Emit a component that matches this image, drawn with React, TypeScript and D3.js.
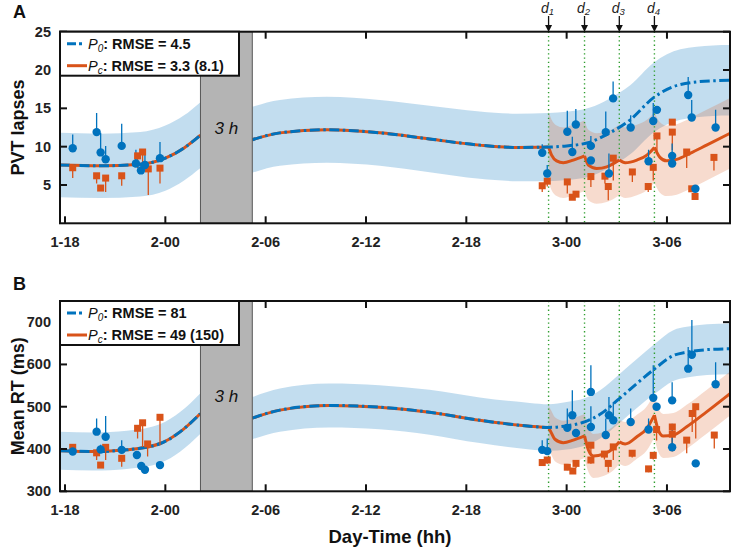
import React from "react";
import * as d3 from "d3";

const W = 732;
const H = 547;
const FONT = "'Liberation Sans', Arial, sans-serif";
const BLUE = "#0072bd";
const ORANGE = "#d95319";

// ---------- shared data ----------
const xDomain = [17.7, 57.77];
const xTicks = [18, 24, 30, 36, 42, 48, 54];
const xTickLabels = ["1-18", "2-00", "2-06", "2-12", "2-18", "3-00", "3-06"];
const doseTimes = [46.92, 49.07, 51.15, 53.25];
const doseNames = ["1", "2", "3", "4"];
const gapWindow = [26.1, 29.2];

// ---------- panel A: PVT lapses ----------
const lapsesTicks = [5, 10, 15, 20, 25];
// [time (h), P0 value, band half-width]
const lapsesP0Pre = [
  [17.7, 7.6, 4.2], [20.1, 7.5, 4.2], [22.5, 7.7, 4.2], [24, 8.5, 4.25],
  [25.1, 9.8, 4.25], [26.1, 11.5, 4.3],
];
const lapsesP0Post = [
  [29.2, 10.9, 4.3], [30.85, 11.8, 4.3], [33.66, 12.2, 4.3], [36.83, 11.8, 4.3],
  [39.8, 11.0, 4.35], [42.8, 10.2, 4.4], [45, 9.9, 4.4], [46.92, 9.95, 4.45],
  [48, 10.1, 4.45], [49.4, 10.6, 4.5], [50.5, 11.7, 4.5], [51.8, 13.5, 4.5],
  [53.2, 16.4, 4.55], [54.8, 18.1, 4.6], [56.75, 18.6, 4.6], [57.77, 18.65, 4.6],
];
// [time, Pc value]
const lapsesPc = [
  [46.92, 9.95], [47.1, 8.9], [47.4, 8.15], [47.8, 7.9], [48.4, 8.25], [49.07, 8.8],
  [49.3, 7.6], [49.8, 7.16], [50.4, 7.37], [51.15, 8.25],
  [51.5, 7.9], [52.2, 8.25], [52.8, 8.9], [53.25, 9.9],
  [53.58, 8.6], [53.98, 8.15], [54.58, 8.34], [55.38, 9.12], [56.37, 10.2], [57.77, 11.74],
];
const lapsesPcHalfWidth = 4.6;
// [time, mean, top of error bar]
const lapsesBlue = [
  [18.46, 9.8, 11.6], [19.89, 11.9, 14.4], [20.13, 9.25, 11.8], [20.43, 8.35, 10.1],
  [21.39, 10.1, 13.0], [22.24, 7.8, 9.6], [22.54, 6.9, 7.9], [22.78, 7.6, 8.9],
  [23.68, 8.5, 10.6],
  [46.54, 9.2, 10.3], [46.84, 6.5, 7.6], [48.04, 11.95, 14.7], [48.55, 12.9, 14.9],
  [48.34, 9.3, 11.3], [49.45, 10.1, 11.4], [49.45, 8.2, 8.2], [50.34, 11.9, 14.6],
  [50.53, 6.5, 9.1], [50.78, 16.3, 18.5], [51.83, 12.5, 14.1], [52.9, 8.1, 9.6],
  [53.18, 13.35, 15.7], [53.4, 14.8, 14.8], [54.31, 8.8, 10.4], [54.31, 7.8, 7.8],
  [55.27, 16.75, 19.1], [55.48, 13.8, 16.1], [55.7, 4.5, 4.5], [56.91, 12.5, 14.8],
];
// [time, mean, bottom of error bar]
const lapsesOrange = [
  [18.46, 7.25, 5.9], [19.89, 6.2, 5.2], [20.13, 4.6, 4.2], [20.43, 5.9, 4.1],
  [21.39, 6.2, 4.9], [22.34, 8.8, 7.2], [22.64, 9.3, 7.4], [22.98, 7.1, 3.7],
  [23.68, 7.2, 5.2],
  [46.54, 4.9, 4.1], [46.84, 5.5, 4.8], [48.04, 5.4, 3.9], [48.34, 3.4, 3.4],
  [48.56, 3.8, 3.8], [49.45, 6.1, 4.75], [50.29, 6.15, 5.2], [50.49, 4.8, 3.0],
  [50.79, 8.5, 5.6], [51.93, 6.7, 5.4], [52.88, 4.8, 4.1], [53.18, 7.3, 5.6],
  [53.4, 11.4, 9.1], [54.32, 13.2, 13.2], [54.32, 11.9, 9.55], [55.18, 9.3, 7.2],
  [55.48, 4.5, 4.5], [55.68, 3.5, 3.5], [56.81, 8.6, 6.9],
];
const lapsesLegend = ["4.5", "3.3 (8.1)"];

// ---------- panel B: mean RT ----------
const rtTicks = [300, 400, 500, 600, 700];
const rtP0Pre = [
  [17.7, 396, 45], [19.7, 394, 45], [21.7, 398, 45], [23.7, 413, 46],
  [24.9, 441, 47], [26.1, 484, 48],
];
const rtP0Post = [
  [29.2, 473, 50], [30.85, 492, 51], [33.8, 503, 52], [36.8, 499, 52],
  [39.8, 487, 53], [42.8, 468, 54], [45.8, 454, 55], [46.92, 451, 55],
  [48, 455, 56], [49.07, 464, 56], [50, 482, 57], [51.15, 519, 58],
  [52.2, 555, 58], [53.28, 590, 59], [54.38, 621, 60], [55.18, 629, 60],
  [56.4, 635, 60], [57.77, 637, 60],
];
const rtPc = [
  [46.92, 451], [47.1, 437], [47.3, 423], [47.8, 415], [48.4, 421], [49.07, 431],
  [49.3, 398], [49.6, 383.5], [50.2, 388], [50.8, 401.6], [51.15, 417],
  [51.5, 412], [52.2, 429], [52.8, 449], [53.25, 480],
  [53.48, 444.7], [53.78, 430.6], [54.38, 433], [55.18, 452.5], [56.37, 487.8], [57.77, 531],
];
const rtPcHalfWidth = 52;
const rtBlue = [
  [18.46, 394, 394], [19.89, 441, 472], [20.43, 429, 478], [20.13, 399, 410],
  [21.39, 398, 421], [22.3, 386, 395], [22.56, 360, 360], [22.78, 351, 351],
  [23.68, 362, 362],
  [46.54, 398, 421], [46.84, 395, 425], [48.04, 450, 496], [48.34, 480, 539],
  [48.56, 438, 445], [49.45, 535, 598], [49.45, 452, 501], [50.34, 433, 472],
  [50.53, 480, 523], [50.79, 468, 511], [51.83, 464, 496], [52.9, 446, 472],
  [53.18, 521, 598], [53.38, 500, 500], [54.31, 515, 558], [54.31, 404, 460],
  [55.27, 590, 641], [55.49, 623, 705], [55.72, 366, 366], [56.91, 553, 605],
];
const rtOrange = [
  [18.46, 404, 390], [19.89, 391, 374], [20.13, 362, 362], [20.43, 404, 374],
  [21.39, 378, 358], [22.34, 449, 425], [22.64, 462, 405], [22.94, 412, 382],
  [23.68, 475, 409],
  [46.54, 368, 360], [46.84, 374, 365], [48.04, 357, 350], [48.37, 348, 348],
  [48.56, 366, 355], [49.45, 409, 385], [49.45, 374, 365], [50.26, 388, 375],
  [50.49, 366, 345], [50.79, 405, 374], [51.92, 390, 380], [52.9, 353, 345],
  [53.18, 385, 375], [53.38, 446, 420], [54.32, 452, 410], [54.32, 435, 394],
  [55.18, 421, 390], [55.51, 484, 440], [55.72, 500, 425], [56.83, 433, 401],
];
const rtLegend = ["81", "49 (150)"];

// ---------- layout ----------
const X0 = 60;
const X1 = 730;
const x = d3.scaleLinear().domain(xDomain).range([X0, X1]);

type Pt = number[];

function Panel(props: {
  id: string;
  top: number;
  bottom: number;
  yDomain: number[];
  yTicks: number[];
  yLabel: string;
  letter: string;
  letterY: number;
  p0Pre: Pt[];
  p0Post: Pt[];
  pc: Pt[];
  pcHW: number;
  blue: Pt[];
  orange: Pt[];
  legend: string[];
  arrows: boolean;
}) {
  const { id, top, bottom, yDomain, yTicks, yLabel, letter, letterY, p0Pre, p0Post, pc, pcHW, blue, orange, legend, arrows } = props;
  const y = d3.scaleLinear().domain(yDomain).range([bottom, top]);
  const curve = d3.curveMonotoneX;
  const line = d3.line<Pt>().x((d) => x(d[0])).y((d) => y(d[1])).curve(curve);
  const band = d3
    .area<Pt>()
    .x((d) => x(d[0]))
    .y0((d) => y(d[1] - d[2]))
    .y1((d) => y(d[1] + d[2]))
    .curve(curve);
  const pcBand = d3
    .area<Pt>()
    .x((d) => x(d[0]))
    .y0((d) => y(d[1] - pcHW))
    .y1((d) => y(d[1] + pcHW))
    .curve(curve);

  // split Pc into dose-to-dose segments (sharp cusps at each dose)
  const bounds = [...doseTimes, Infinity];
  const pcSegs: Pt[][] = [];
  for (let i = 0; i < doseTimes.length; i++) {
    const seg = pc.filter((d) => d[0] >= bounds[i] - 1e-6 && d[0] <= bounds[i + 1] + 1e-6);
    if (i > 0) {
      const start = pc.find((d) => Math.abs(d[0] - bounds[i]) < 1e-6);
      if (!start) {
        const prev = pcSegs[i - 1][pcSegs[i - 1].length - 1];
        seg.unshift(prev);
      }
    }
    pcSegs.push(seg);
  }
  const p0BeforeDose = p0Post.filter((d) => d[0] <= doseTimes[0] + 1e-6);
  const clipId = `clip-${id}`;
  const midY = (top + bottom) / 2;
  const gx0 = x(gapWindow[0]);
  const gx1 = x(gapWindow[1]);

  return (
    <g>
      <defs>
        <clipPath id={clipId}>
          <rect x={X0} y={top} width={X1 - X0} height={bottom - top} />
        </clipPath>
      </defs>
      <g clipPath={`url(#${clipId})`}>
        <path d={band(p0Pre) || ""} fill={BLUE} fillOpacity={0.24} />
        <path d={band(p0Post) || ""} fill={BLUE} fillOpacity={0.24} />
        {pcSegs.map((s, i) => (
          <path key={i} d={pcBand(s) || ""} fill={ORANGE} fillOpacity={0.21} />
        ))}
        {doseTimes.map((t, i) => (
          <line key={i} x1={x(t)} x2={x(t)} y1={top} y2={bottom} stroke="#2f9e2f" strokeWidth={1.4} strokeDasharray="1.3,3" />
        ))}
        {/* Pc line (identical to P0 before first dose) */}
        <path d={line(p0Pre) || ""} fill="none" stroke={ORANGE} strokeWidth={3} />
        <path d={line(p0BeforeDose) || ""} fill="none" stroke={ORANGE} strokeWidth={3} />
        {pcSegs.map((s, i) => (
          <path key={i} d={line(s) || ""} fill="none" stroke={ORANGE} strokeWidth={3} />
        ))}
        {/* P0 line */}
        <path d={line(p0Pre) || ""} fill="none" stroke={BLUE} strokeWidth={3} strokeDasharray="10,3.5,2.5,3.5" />
        <path d={line(p0Post) || ""} fill="none" stroke={BLUE} strokeWidth={3} strokeDasharray="10,3.5,2.5,3.5" />
        {/* gap box */}
        <rect x={gx0} y={top} width={gx1 - gx0} height={bottom - top} fill="#b4b4b4" stroke="#555" strokeWidth={1} />
        <text x={(gx0 + gx1) / 2} y={midY + 6} textAnchor="middle" fontFamily={FONT} fontSize={17} fontStyle="italic" fill="#111">
          3 h
        </text>
        {/* data: error bars */}
        {orange.map((d, i) => (
          <line key={"oe" + i} x1={x(d[0])} x2={x(d[0])} y1={y(d[1])} y2={y(d[2])} stroke={ORANGE} strokeWidth={1.3} />
        ))}
        {blue.map((d, i) => (
          <line key={"be" + i} x1={x(d[0])} x2={x(d[0])} y1={y(d[1])} y2={y(d[2])} stroke={BLUE} strokeWidth={1.3} />
        ))}
        {orange.map((d, i) => (
          <rect key={"om" + i} x={x(d[0]) - 3.5} y={y(d[1]) - 3.5} width={7} height={7} fill={ORANGE} />
        ))}
        {blue.map((d, i) => (
          <circle key={"bm" + i} cx={x(d[0])} cy={y(d[1])} r={4.2} fill={BLUE} />
        ))}
      </g>
      {/* frame */}
      <rect x={X0} y={top} width={X1 - X0} height={bottom - top} fill="none" stroke="#111" strokeWidth={2} />
      {xTicks.map((t, i) => (
        <g key={i}>
          <line x1={x(t)} x2={x(t)} y1={bottom} y2={bottom - 7} stroke="#111" strokeWidth={2} />
          <line x1={x(t)} x2={x(t)} y1={top} y2={top + 7} stroke="#111" strokeWidth={2} />
          <text x={x(t)} y={bottom + 24} textAnchor="middle" fontFamily={FONT} fontSize={14.5} fontWeight="bold" fill="#222">
            {xTickLabels[i]}
          </text>
        </g>
      ))}
      {yTicks.map((v, i) => (
        <g key={i}>
          <line x1={X0} x2={X0 + 7} y1={y(v)} y2={y(v)} stroke="#111" strokeWidth={2} />
          <line x1={X1} x2={X1 - 7} y1={y(v)} y2={y(v)} stroke="#111" strokeWidth={2} />
          <text x={51} y={y(v) + 5} textAnchor="end" fontFamily={FONT} fontSize={14.5} fontWeight="bold" fill="#222">
            {v}
          </text>
        </g>
      ))}
      <text transform={`translate(24,${midY}) rotate(-90)`} textAnchor="middle" fontFamily={FONT} fontSize={18} fontWeight="bold" fill="#111">
        {yLabel}
      </text>
      <text x={13} y={letterY} fontFamily={FONT} fontSize={18} fontWeight="bold" fill="#111">
        {letter}
      </text>
      {/* legend */}
      <rect x={X0} y={top} width={179} height={44} fill="#fff" stroke="#111" strokeWidth={2} />
      <line x1={67} x2={85} y1={top + 12} y2={top + 12} stroke={BLUE} strokeWidth={3} strokeDasharray="9,3,3,3" />
      <line x1={67} x2={87} y1={top + 34} y2={top + 34} stroke={ORANGE} strokeWidth={3} />
      <text x={88} y={top + 17} fontFamily={FONT} fontSize={14.5} fontWeight="bold" fill="#111">
        <tspan fontStyle="italic" fontWeight="normal">P</tspan>
        <tspan fontStyle="italic" fontWeight="normal" fontSize={10} dy={3}>0</tspan>
        <tspan dy={-3}>{`: RMSE = ${legend[0]}`}</tspan>
      </text>
      <text x={88} y={top + 39} fontFamily={FONT} fontSize={14.5} fontWeight="bold" fill="#111">
        <tspan fontStyle="italic" fontWeight="normal">P</tspan>
        <tspan fontStyle="italic" fontWeight="normal" fontSize={10} dy={3}>c</tspan>
        <tspan dy={-3}>{`: RMSE = ${legend[1]}`}</tspan>
      </text>
      {arrows &&
        doseTimes.map((t, i) => (
          <g key={"ar" + i}>
            <line x1={x(t)} x2={x(t)} y1={16} y2={26} stroke="#111" strokeWidth={1.3} />
            <path d={`M${x(t) - 3.5},25 L${x(t) + 3.5},25 L${x(t)},32 Z`} fill="#111" />
            <text x={x(t) - 1} y={13} textAnchor="middle" fontFamily={FONT} fontSize={14} fontStyle="italic" fill="#222">
              d
              <tspan fontSize={9.5} dy={1.5}>{doseNames[i]}</tspan>
            </text>
          </g>
        ))}
    </g>
  );
}

export default function App() {
  return (
    <svg width={W} height={H} style={{ position: "absolute", left: 0, top: 0, background: "#fff" }}>
      <rect x={0} y={0} width={W} height={H} fill="#fff" />
      <Panel
        id="a"
        top={31.7}
        bottom={223.3}
        yDomain={[0, 25]}
        yTicks={lapsesTicks}
        yLabel="PVT lapses"
        letter="A"
        letterY={18}
        p0Pre={lapsesP0Pre}
        p0Post={lapsesP0Post}
        pc={lapsesPc}
        pcHW={lapsesPcHalfWidth}
        blue={lapsesBlue}
        orange={lapsesOrange}
        legend={lapsesLegend}
        arrows={true}
      />
      <Panel
        id="b"
        top={301}
        bottom={491.3}
        yDomain={[300, 750]}
        yTicks={rtTicks}
        yLabel="Mean RT (ms)"
        letter="B"
        letterY={290}
        p0Pre={rtP0Pre}
        p0Post={rtP0Post}
        pc={rtPc}
        pcHW={rtPcHalfWidth}
        blue={rtBlue}
        orange={rtOrange}
        legend={rtLegend}
        arrows={false}
      />
      <text x={390} y={543} textAnchor="middle" fontFamily={FONT} fontSize={18.5} fontWeight="bold" fill="#111">
        Day-Time (hh)
      </text>
    </svg>
  );
}
